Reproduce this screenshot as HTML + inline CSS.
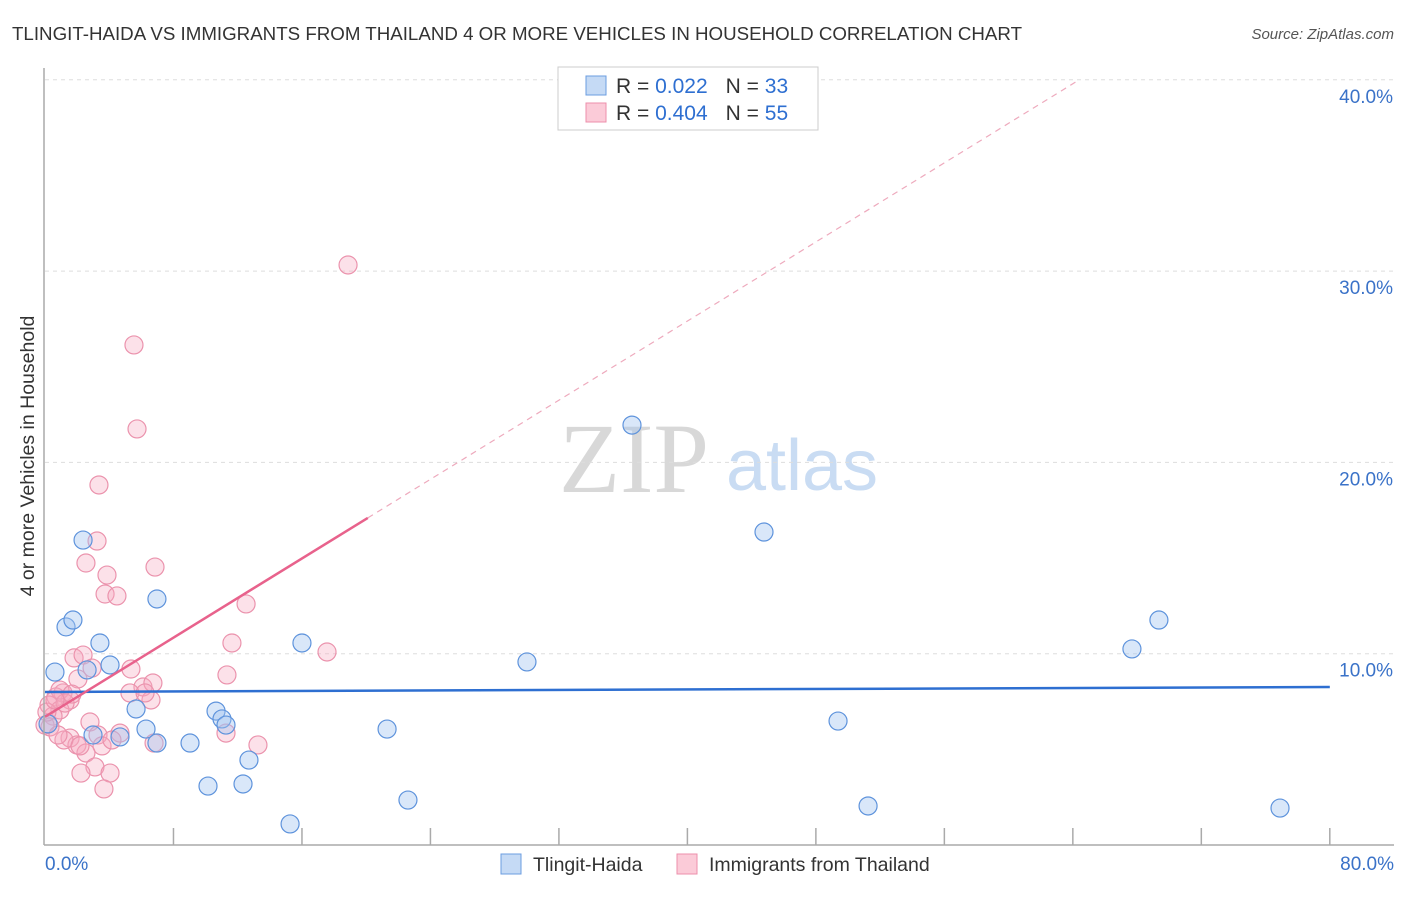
<!DOCTYPE html>
<html><head><meta charset="utf-8"><style>
body{margin:0;background:#fff;font-family:"Liberation Sans",sans-serif}
svg text{font-family:"Liberation Sans",sans-serif}
svg text.serif{font-family:"Liberation Serif",serif}
</style></head><body>
<svg id="c" width="1406" height="892">
<text x="12" y="40" font-size="18" fill="#333" textLength="1010" lengthAdjust="spacingAndGlyphs">TLINGIT-HAIDA VS IMMIGRANTS FROM THAILAND 4 OR MORE VEHICLES IN HOUSEHOLD CORRELATION CHART</text>
<text x="1394" y="39" font-size="15" fill="#555" text-anchor="end" font-style="italic">Source: ZipAtlas.com</text>
<text class="serif" x="634" y="492" font-size="100" fill="#d8d8d8" text-anchor="middle">ZIP</text>
<text x="802" y="490" font-size="72" fill="#c9dcf3" text-anchor="middle">atlas</text>
<text transform="translate(34,456) rotate(-90)" font-size="19.5" fill="#333" text-anchor="middle">4 or more Vehicles in Household</text>
<g id="grid"></g><g id="pts"></g><g id="lines"></g>
<line x1="44" y1="68" x2="44" y2="845" stroke="#aaa" stroke-width="1.5"/>
<line x1="44" y1="845" x2="1394" y2="845" stroke="#aaa" stroke-width="1.5"/>
<text x="45" y="870" font-size="19" fill="#3a72c8">0.0%</text>
<text x="1394" y="870" font-size="19" fill="#3a72c8" text-anchor="end">80.0%</text>
<g>
<rect x="558" y="67" width="260" height="63" fill="#fff" stroke="#ccc"/>
<rect x="586" y="76" width="20" height="19" fill="#c5daf5" stroke="#6b9de0"/>
<rect x="586" y="103" width="20" height="19" fill="#fbcbd8" stroke="#ec8fab"/>
<text x="616" y="93" font-size="21" fill="#333">R = <tspan fill="#2e6fd1">0.022</tspan><tspan dx="18">N = </tspan><tspan fill="#2e6fd1">33</tspan></text>
<text x="616" y="120" font-size="21" fill="#333">R = <tspan fill="#2e6fd1">0.404</tspan><tspan dx="18">N = </tspan><tspan fill="#2e6fd1">55</tspan></text>
</g>
<g>
<rect x="501" y="854" width="20" height="20" fill="#c5daf5" stroke="#6b9de0"/>
<text x="533" y="871" font-size="19.5" fill="#333">Tlingit-Haida</text>
<rect x="677" y="854" width="20" height="20" fill="#fbcbd8" stroke="#ec8fab"/>
<text x="709" y="871" font-size="19.5" fill="#333">Immigrants from Thailand</text>
</g>
</svg>
<script>
const yTicks=[10,20,30,40];
const xTicks=[8,16,24,32,40,48,56,64,72,80];
const blueX=[2.37,1.31,1.74,0.62,3.42,2.62,4.05,6.97,5.67,6.29,6.97,9.03,10.65,11.02,11.27,12.70,12.33,10.15,15.26,16.00,21.30,22.60,30.01,36.55,44.77,49.38,51.25,67.68,69.36,76.90,0.19,4.67,2.99];
const blueY=[15.94,11.40,11.76,9.04,10.56,9.15,9.41,12.86,7.11,6.06,5.33,5.33,7.00,6.59,6.27,4.44,3.19,3.08,1.10,10.56,6.06,2.35,9.57,21.95,16.36,6.48,2.04,10.25,11.76,1.93,6.33,5.65,5.75];
const pinkX=[18.87,5.54,5.73,3.36,3.24,2.55,3.86,6.85,3.74,4.48,12.52,11.64,11.33,17.56,5.35,1.81,2.37,2.93,2.05,1.12,0.68,0.25,1.56,0.93,0.50,0.00,0.31,6.10,6.72,5.29,6.60,2.80,4.67,3.30,1.56,1.99,3.55,2.55,6.79,13.26,11.27,3.11,4.05,2.24,3.67,0.93,1.25,0.12,1.68,0.62,6.23,1.18,4.17,2.18,0.81];
const pinkY=[30.32,26.14,21.75,18.82,15.89,14.74,14.11,14.53,13.12,13.02,12.60,10.56,8.89,10.09,9.20,9.78,9.93,9.25,8.68,7.95,7.74,7.32,7.58,7.06,6.74,6.27,6.17,8.26,8.47,7.95,7.58,6.43,5.85,5.75,5.59,5.23,5.18,4.81,5.33,5.23,5.85,4.08,3.76,3.76,2.93,8.10,7.42,6.95,7.89,7.58,7.95,5.49,5.49,5.18,5.75];
const blueTrend=[0,8.0,80,8.26];
const pinkTrend=[0,6.7,20.1,17.1,64.4,40];
const X=v=>45+v*16.06, Y=v=>845-v*19.13;
const NS='http://www.w3.org/2000/svg';
function mk(p,t,a){const e=document.createElementNS(NS,t);for(const k in a)e.setAttribute(k,a[k]);document.getElementById(p).appendChild(e);return e;}
yTicks.forEach(t=>{
 const l=mk('grid','line',{x1:45,x2:1394,y1:Y(t),y2:Y(t),stroke:'#ddd','stroke-dasharray':'4,4'});
 
 
 const tx=mk('grid','text',{x:1393,y:Y(t)+23,'font-size':19,fill:'#3a72c8','text-anchor':'end'});
 tx.textContent=t.toFixed(1)+'%';
 
 
});
xTicks.forEach(t=>{
 const l=mk('grid','line',{x1:X(t),x2:X(t),y1:828,y2:845,stroke:'#aaa','stroke-width':1.5});
 
 
});
pinkX.forEach((v,i)=>{
 const c=mk('pts','circle',{cx:X(v),cy:Y(pinkY[i]),r:9,fill:'rgba(246,170,192,0.35)',stroke:'#eb93ad','stroke-width':1.2});
 
 
});
blueX.forEach((v,i)=>{
 const c=mk('pts','circle',{cx:X(v),cy:Y(blueY[i]),r:9,fill:'rgba(160,196,240,0.4)',stroke:'#5e93dc','stroke-width':1.2});
 
 
});
let l=mk('lines','line',{x1:X(blueTrend[0]),y1:Y(blueTrend[1]),x2:X(blueTrend[2]),y2:Y(blueTrend[3]),stroke:'#2e6fd1','stroke-width':2.5});


l=mk('lines','line',{x1:X(pinkTrend[0]),y1:Y(pinkTrend[1]),x2:X(pinkTrend[2]),y2:Y(pinkTrend[3]),stroke:'#e8628c','stroke-width':2.5});


l=mk('lines','line',{x1:X(pinkTrend[2]),y1:Y(pinkTrend[3]),x2:X(pinkTrend[4]),y2:Y(pinkTrend[5]),stroke:'#eeaabd','stroke-width':1.2,'stroke-dasharray':'6,5'});


</script>
</body></html>
